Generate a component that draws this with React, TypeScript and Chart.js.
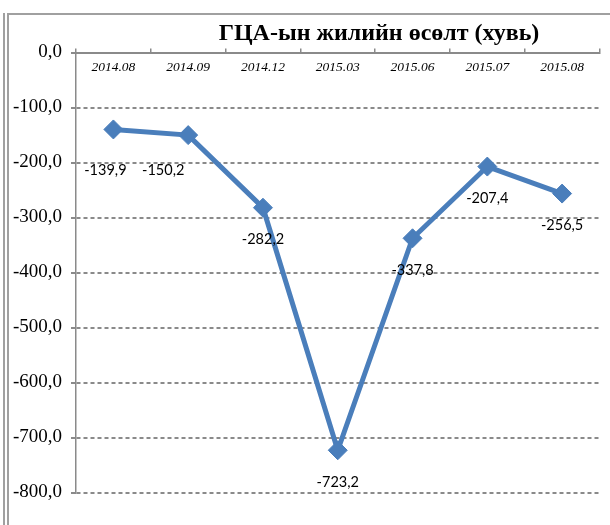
import React, { useEffect, useRef } from "react";
import { Chart, registerables } from "chart.js";

Chart.register(...registerables);

const categories = ["2014.08", "2014.09", "2014.12", "2015.03", "2015.06", "2015.07", "2015.08"];
const growth = [-139.9, -150.2, -282.2, -723.2, -337.8, -207.4, -256.5];
const yMin = -800;
const yMax = 0;
const yStep = 100;
const titleText = "ГЦА-ын жилийн өсөлт (хувь)";

const fmt = (v: number) => Number(v).toFixed(1).replace(".", ",");

const GRID = "#8a8a8a";
const BLUE = "#4a7ebb";

const pointLabels = {
  id: "pointLabels",
  afterDatasetsDraw(chart: any, _args: any, opts: any) {
    const ctx = chart.ctx;
    const meta = chart.getDatasetMeta(0);
    const data = chart.data.datasets[0].data as number[];
    ctx.save();
    ctx.font = opts.font;
    ctx.fillStyle = opts.color;
    ctx.textAlign = "center";
    ctx.textBaseline = "middle";
    meta.data.forEach((el: any, i: number) => {
      const n = (opts.nudge && opts.nudge[i]) || [0, 0];
      ctx.fillText(fmt(data[i]), el.x + n[0], el.y + opts.offset + n[1]);
    });
    ctx.restore();
  },
};

export default function App() {
  const ref = useRef<HTMLCanvasElement | null>(null);

  useEffect(() => {
    if (!ref.current) return;
    const chart = new Chart(ref.current, {
      type: "line",
      data: {
        labels: categories,
        datasets: [
          {
            data: growth,
            borderColor: BLUE,
            backgroundColor: BLUE,
            borderWidth: 5,
            tension: 0,
            pointStyle: "rectRot",
            pointRadius: 9.5,
            pointBackgroundColor: BLUE,
            pointBorderColor: BLUE,
            pointBorderWidth: 1,
            clip: false as any,
          },
        ],
      },
      options: {
        animation: false,
        responsive: false,
        layout: { padding: { left: 0, right: 1, top: 0, bottom: 32.5 } },
        plugins: {
          legend: { display: false },
          tooltip: { enabled: false },
          title: { display: false },
          pointLabels: {
            font: "14.5px Lato",
            color: "#000",
            offset: 32,
            nudge: [[-8, 9], [-25, 3], [0, 0], [0, 0], [0, 0], [0, 0], [0, 0]],
          },
        } as any,
        scales: {
          x: {
            type: "category",
            position: "top",
            offset: true,
            grid: {
              display: true,
              drawOnChartArea: false,
              drawTicks: true,
              tickLength: 4,
              color: GRID,
              lineWidth: 1.5,
              offset: true,
            },
            border: { display: true, color: GRID, width: 2 },
            ticks: {
              mirror: true,
              padding: 7,
              autoSkip: false,
              maxRotation: 0,
              color: "#000",
              font: { family: "'Liberation Serif', serif", style: "italic", size: 13.5 },
            },
            afterFit: (s: any) => {
              s.height = 52.5;
            },
          },
          y: {
            min: yMin,
            max: yMax,
            ticks: {
              stepSize: yStep,
              padding: 9,
              color: "#000",
              font: { family: "'Liberation Serif', serif", size: 19 },
              callback: (v: any) => fmt(v),
            },
            grid: { color: GRID, lineWidth: 2, tickLength: 5 },
            border: { display: true, color: GRID, width: 1.5, dash: [4, 3] },
            afterFit: (s: any) => {
              s.width = 76;
            },
          },
        },
      },
      plugins: [pointLabels as any],
    });
    return () => chart.destroy();
  }, []);

  return (
    <div
      style={{
        position: "fixed",
        left: 0,
        top: 0,
        width: 610,
        height: 525,
        background: "#fff",
        overflow: "hidden",
      }}
    >
      <div style={{ position: "absolute", left: 3, top: 13, width: 2, height: 512, background: "#a0a0a0" }} />
      <div style={{ position: "absolute", left: 7, top: 13, width: 2, height: 512, background: "#a0a0a0" }} />
      <div style={{ position: "absolute", left: 7, top: 13, width: 603, height: 2, background: "#a0a0a0" }} />
      <canvas
        ref={ref}
        width={610}
        height={525}
        style={{ position: "absolute", left: 0, top: 0, width: 610, height: 525 }}
      />
      <div
        style={{
          position: "absolute",
          left: 379,
          top: 17,
          transform: "translateX(-50%)",
          whiteSpace: "nowrap",
          fontFamily: "'Liberation Serif', serif",
          fontWeight: "bold",
          fontSize: 24,
          lineHeight: "30px",
          color: "#000",
        }}
      >
        {titleText}
      </div>
    </div>
  );
}
